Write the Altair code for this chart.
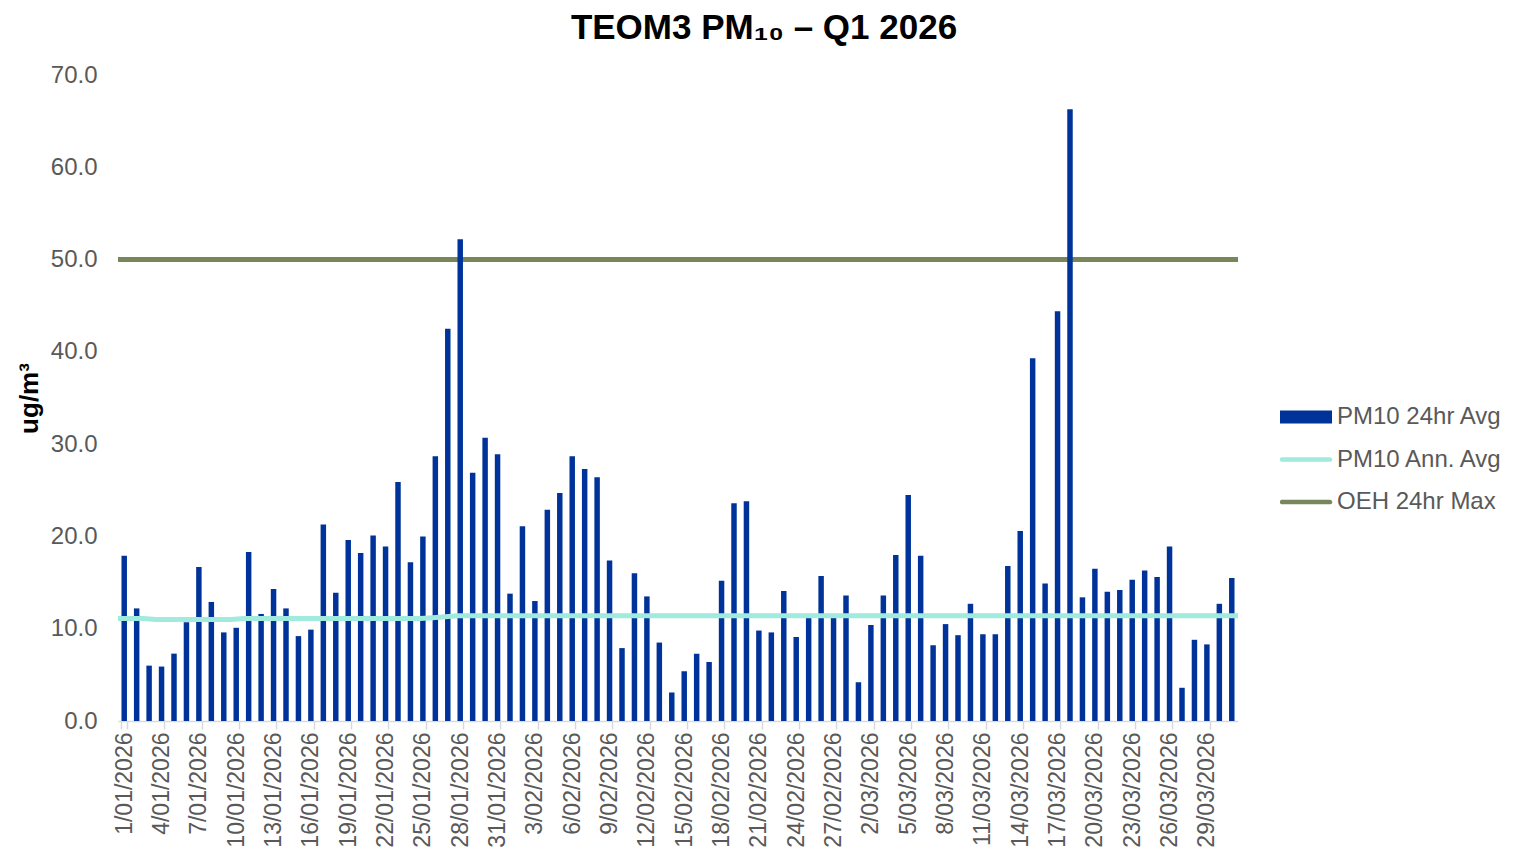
import altair as alt
import pandas as pd
import datetime as dt

# ---- data ----
start = dt.date(2026, 1, 1)
dates = [f"{d.day}/{d.month:02d}/{d.year}" for d in (start + dt.timedelta(days=i) for i in range(90))]

pm10_24hr = [
    17.9, 12.2, 6.0, 5.9, 7.3, 10.7, 16.7, 12.9, 9.6, 10.1,
    18.3, 11.6, 14.3, 12.2, 9.2, 9.9, 21.3, 13.9, 19.6, 18.2,
    20.1, 18.9, 25.9, 17.2, 20.0, 28.7, 42.5, 52.2, 26.9, 30.7,
    28.9, 13.8, 21.1, 13.0, 22.9, 24.7, 28.7, 27.3, 26.4, 17.4,
    7.9, 16.0, 13.5, 8.5, 3.1, 5.4, 7.3, 6.4, 15.2, 23.6,
    23.8, 9.8, 9.6, 14.1, 9.1, 11.5, 15.7, 11.3, 13.6, 4.2,
    10.4, 13.6, 18.0, 24.5, 17.9, 8.2, 10.5, 9.3, 12.7, 9.4,
    9.4, 16.8, 20.6, 39.3, 14.9, 44.4, 66.3, 13.4, 16.5, 14.0,
    14.2, 15.3, 16.3, 15.6, 18.9, 3.6, 8.8, 8.3, 12.7, 15.5,
]

ann_avg = (
    [11.1, 11.1, 11.1]
    + [11.0] * 7
    + [11.1] * 15
    + [11.2, 11.3]
    + [11.4] * 63
)

oeh_max = 50.0

series_names = ["PM10 24hr Avg", "PM10 Ann. Avg", "OEH 24hr Max"]
series_colors = ["#003399", "#A0EADE", "#77875A"]

tick_labels = dates[::3]
y_ticks = [0, 10, 20, 30, 40, 50, 60, 70]

# ---- tables ----
bars_df = pd.DataFrame({"Date": dates, "PM10": pm10_24hr})
avg_df = pd.DataFrame({"idx": list(range(len(ann_avg))), "avg": ann_avg})
legend_df = pd.DataFrame({"series": series_names, "v": [None, None, None]})

FONT = "Liberation Sans"
GRAY = "#595959"
LBL = 24

y_scale = alt.Scale(domain=[0, 70], nice=False, zero=True)

bar_path = "M-1,-0.25L1,-0.25L1,0.25L-1,0.25Z"
line_path = "M-0.92,-0.09L0.92,-0.09A0.09,0.09 0 0 1 0.92,0.09L-0.92,0.09A0.09,0.09 0 0 1 -0.92,-0.09Z"

rule = alt.Chart(bars_df).mark_rule(
    color=series_colors[2], strokeWidth=5, strokeCap="butt"
).encode(
    y=alt.YDatum(oeh_max, scale=y_scale)
)

bars = alt.Chart(bars_df).mark_bar(color=series_colors[0]).encode(
    x=alt.X(
        "Date:N",
        sort=dates,
        scale=alt.Scale(paddingInner=0.56, paddingOuter=0.28),
        axis=alt.Axis(
            title=None,
            values=tick_labels,
            labelAngle=-90,
            labelFont=FONT,
            labelFontSize=23,
            labelColor=GRAY,
            labelPadding=3,
            labelOverlap=False,
            labelLimit=0,
            tickBand="extent",
            tickColor="#D9D9D9",
            tickWidth=1.5,
            tickSize=8,
            domainColor="#D9D9D9",
            domainWidth=1.5,
            grid=False,
        ),
    ),
    y=alt.Y(
        "PM10:Q",
        scale=y_scale,
        axis=alt.Axis(
            values=y_ticks,
            format=".1f",
            title="ug/m³",
            titleFont=FONT,
            titleFontSize=26,
            titleFontWeight="bold",
            titleColor="black",
            titlePadding=8,
            labelFont=FONT,
            labelFontSize=LBL,
            labelColor=GRAY,
            labelPadding=21,
            domain=False,
            ticks=False,
            gridColor="#D9D9D9",
            gridWidth=1.5,
        ),
    ),
)

avg_line = alt.Chart(avg_df).mark_line(
    color=series_colors[1], strokeWidth=5
).encode(
    x=alt.X("idx:Q", scale=alt.Scale(domain=[0, len(ann_avg) - 1], nice=False, zero=False), axis=None),
    y=alt.Y("avg:Q", scale=y_scale),
)

leg = alt.Legend(
    title=None,
    orient="none",
    legendX=1162,
    legendY=323,
    labelFont=FONT,
    labelFontSize=LBL,
    labelColor=GRAY,
    labelOffset=5,
    labelLimit=0,
    symbolSize=2704,
    symbolStrokeWidth=0,
    clipHeight=38,
    rowPadding=4.5,
)

legend_layer = alt.Chart(legend_df).mark_point(filled=True, size=2704, opacity=1).encode(
    y=alt.Y("v:Q", scale=y_scale),
    color=alt.Color(
        "series:N",
        scale=alt.Scale(domain=series_names, range=series_colors),
        legend=leg,
    ),
    shape=alt.Shape(
        "series:N",
        scale=alt.Scale(domain=series_names, range=[bar_path, line_path, line_path]),
        legend=leg,
    ),
)

chart = alt.layer(rule, bars, avg_line, legend_layer).resolve_scale(
    x="independent"
).properties(
    width=1120,
    height=646,
    background="white",
    padding={"left": 110, "top": 67, "right": 283, "bottom": 128},
    autosize=alt.AutoSizeParams(type="none"),
    title=alt.Title(
        "TEOM3 PM₁₀ – Q1 2026",
        font=FONT,
        fontSize=35,
        fontWeight="bold",
        color="black",
        anchor="middle",
        dx=86,
        offset=17,
    ),
).configure_view(stroke=None)

chart.save("out.html", embed_options={"renderer": "svg", "actions": False})
